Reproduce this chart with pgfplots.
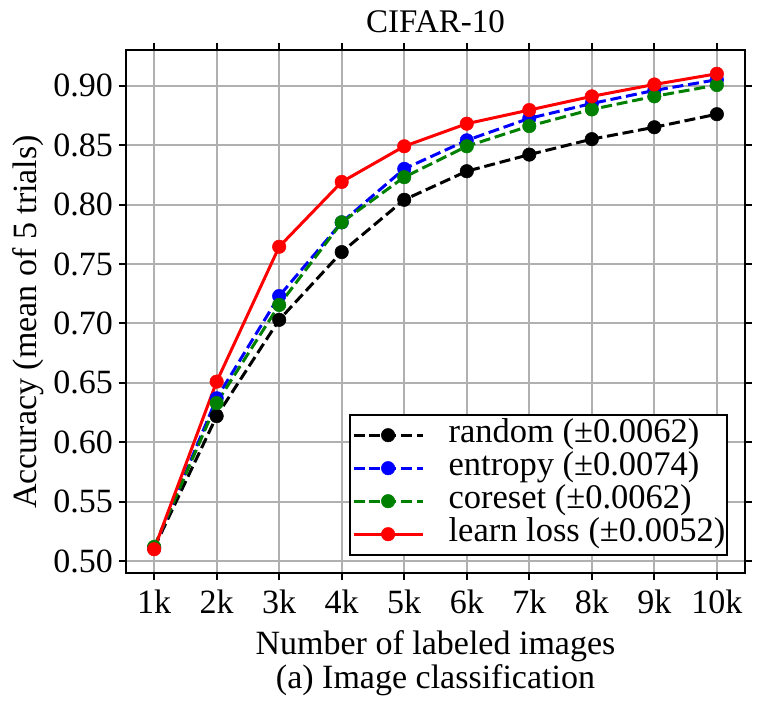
\documentclass[border=0pt]{standalone}
\usepackage{fontspec}
\setmainfont{Liberation Serif}
\usepackage{pgfplots}
\pgfplotsset{compat=1.18}

\definecolor{gridgray}{HTML}{B0B0B0}
\definecolor{mplgreen}{HTML}{008000}

% accuracy (mean of 5 trials) at 1k ... 10k labeled images
\pgfplotstableread{
n  random  entropy  coreset  learnloss
1  0.511   0.511    0.512    0.510
2  0.622   0.637    0.633    0.651
3  0.703   0.723    0.7155   0.7645
4  0.760   0.785    0.785    0.819
5  0.804   0.830    0.823    0.849
6  0.828   0.854    0.849    0.868
7  0.842   0.8725   0.866    0.8795
8  0.855   0.885    0.880    0.891
9  0.865   0.896    0.891    0.901
10 0.876   0.905    0.9005   0.910
}\acctable

\tikzset{
  mpldash/.style={dash pattern=on 11pt off 4.8pt},
}
\newcommand\bigfont{\fontsize{34}{34}\selectfont}

\begin{document}
\bigfont
\begin{tikzpicture}
\useasboundingbox (-126pt,-134pt) rectangle (642pt,573pt);
\begin{axis}[
  at={(0pt,0pt)}, anchor=south west,
  scale only axis, width=619pt, height=523pt,
  xmin=0.55, xmax=10.45, ymin=0.49, ymax=0.93,
  xtick={1,2,3,4,5,6,7,8,9,10},
  xticklabels={1k,2k,3k,4k,5k,6k,7k,8k,9k,10k},
  ytick={0.50,0.55,0.60,0.65,0.70,0.75,0.80,0.85,0.90},
  /pgf/number format/fixed,
  /pgf/number format/fixed zerofill,
  /pgf/number format/precision=2,
  /pgf/number format/assume math mode=true,
  tick label style={font=\fontsize{34}{34}\selectfont},
  xticklabel style={inner sep=0pt, yshift=-10pt},
  yticklabel style={inner sep=0pt, xshift=-6pt},
  grid=major,
  grid style={gridgray, line width=2pt},
  axis line style={line width=2pt},
  tick style={black, line width=2pt},
  tick align=outside, major tick length=7pt,
  title={CIFAR-10},
  title style={font=\fontsize{33}{34}\selectfont, inner sep=0pt, yshift=11pt},
  xlabel={Number of labeled images\\(a) Image classification},
  xlabel style={font=\bigfont, align=center, at={(axis description cs:0.5,0)}, anchor=north, inner sep=0pt, yshift=-57pt},
  ylabel={Accuracy (mean of 5 trials)},
  ylabel style={font=\bigfont, at={(axis description cs:-0.1438,0.48)}, anchor=base, inner sep=0pt},
  legend cell align=left,
  legend style={
    at={(0.973,0.0331)}, anchor=south east,
    draw=black, line width=2pt,
    inner xsep=2pt, inner ysep=4pt,
    row sep=0pt,
    nodes={inner sep=0pt, text height=24pt, text depth=9pt},
    font=\fontsize{34.5}{35}\selectfont,
  },
  legend image code/.code={%
    \path[draw=none, fill=none] (0pt,0pt) -- (95pt,0pt);
    \draw[mark repeat=2, mark phase=2, #1]
      plot coordinates {(0pt,0pt) (34.5pt,0pt) (69pt,0pt)};
  },
]
\addplot[black, line width=3pt, mpldash, mark=*, mark size=6.75pt,
  mark options={solid, fill=black, line width=0.5pt}]
  table[x=n, y=random] {\acctable};
\addlegendentry{random (±0.0062)}
\addplot[blue, line width=3pt, mpldash, mark=*, mark size=6.75pt,
  mark options={solid, fill=blue, line width=0.5pt}]
  table[x=n, y=entropy] {\acctable};
\addlegendentry{entropy (±0.0074)}
\addplot[mplgreen, line width=3pt, mpldash, mark=*, mark size=6.75pt,
  mark options={solid, fill=mplgreen, line width=0.5pt}]
  table[x=n, y=coreset] {\acctable};
\addlegendentry{coreset (±0.0062)}
\addplot[red, line width=3pt, solid, mark=*, mark size=6.75pt,
  mark options={solid, fill=red, line width=0.5pt}]
  table[x=n, y=learnloss] {\acctable};
\addlegendentry{learn loss (±0.0052)}
\end{axis}
\end{tikzpicture}
\end{document}
